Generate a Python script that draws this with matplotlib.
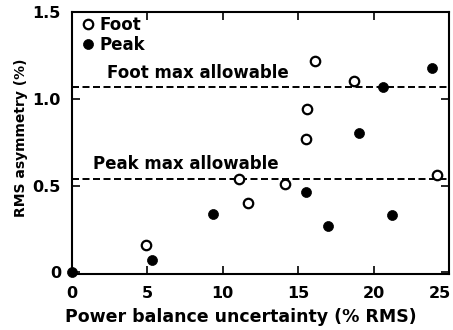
import matplotlib
matplotlib.use("Agg")
import matplotlib.pyplot as plt
import matplotlib.transforms as mtransforms

plt.rcParams['font.family'] = ['DejaVu Sans']
plt.rcParams['font.weight'] = 'bold'

# Foot (open circles)
foot_x = [4.9, 11.1, 11.7, 14.1, 15.5, 15.6, 16.1, 18.7, 24.2]
foot_y = [0.16, 0.54, 0.40, 0.51, 0.77, 0.94, 1.22, 1.10, 0.56]

# Peak (filled circles)
peak_x = [0.0, 5.3, 9.35, 15.5, 17.0, 21.2, 19.0, 20.6, 23.9]
peak_y = [0.0, 0.07, 0.335, 0.46, 0.265, 0.33, 0.80, 1.07, 1.18]

foot_max = 1.07
peak_max = 0.535

x_ticks = [0, 5, 10, 15, 20, 25]
y_ticks = [0, 0.5, 1.0, 1.5]
y_tick_labels = ["0", "0.5", "1.0", "1.5"]

fig = plt.figure(figsize=(4.53, 3.30), dpi=100)
ax = fig.add_axes([72 / 453, 1 - 274 / 330, 377 / 453, 262 / 330])

dash = (0, (3.6, 1.8))
ax.axhline(foot_max, color='black', lw=1.4, ls=dash, zorder=1)
ax.axhline(peak_max, color='black', lw=1.4, ls=dash, zorder=1)

ax.plot(foot_x, foot_y, 'o', ms=6.8, mfc='white', mec='black', mew=1.6,
        ls='none', label='Foot', clip_on=False, zorder=3)
ax.plot(peak_x, peak_y, 'o', ms=7.2, mfc='black', mec='black', mew=0.5,
        ls='none', label='Peak', clip_on=False, zorder=3)

ax.text(2.3, foot_max + 0.052, 'Foot max allowable', fontsize=12,
        fontweight='bold', va='baseline', ha='left')
ax.text(1.4, peak_max + 0.058, 'Peak max allowable', fontsize=12,
        fontweight='bold', va='baseline', ha='left')

leg = ax.legend(loc='upper left', bbox_to_anchor=(0.025, 0.985),
                frameon=False, fontsize=12, handletextpad=0.3,
                borderaxespad=0.0, labelspacing=0.1, handlelength=0.8,
                borderpad=0.0)
for t in leg.get_texts():
    t.set_fontweight('bold')

ax.set_xlim(0, 25)
ax.set_ylim(-0.01, 1.5)
ax.set_xticks(x_ticks)
ax.set_xticklabels([str(v) for v in x_ticks])
ax.set_yticks(y_ticks)
ax.set_yticklabels(y_tick_labels)
ax.tick_params(direction='in', top=True, right=True, length=6, width=1.2,
               labelsize=11.5)
ax.tick_params(axis='x', pad=9)
ax.tick_params(axis='y', pad=8)
for lab in ax.get_xticklabels() + ax.get_yticklabels():
    lab.set_fontweight('bold')
# keep the last x tick label inside the figure edge
last = ax.get_xticklabels()[-1]
last.set_transform(last.get_transform() +
                   mtransforms.ScaledTranslation(-9 / 100, 0, fig.dpi_scale_trans))
for s in ax.spines.values():
    s.set_linewidth(1.5)

ax.set_xlabel('Power balance uncertainty (% RMS)', fontsize=12.5,
              fontweight='bold')
ax.xaxis.set_label_coords(0.448, -0.128)
ax.set_ylabel('RMS asymmetry (%)', fontsize=10, fontweight='bold')
ax.yaxis.set_label_coords(-0.117, 0.519)

fig.savefig('out.png', dpi=100)
